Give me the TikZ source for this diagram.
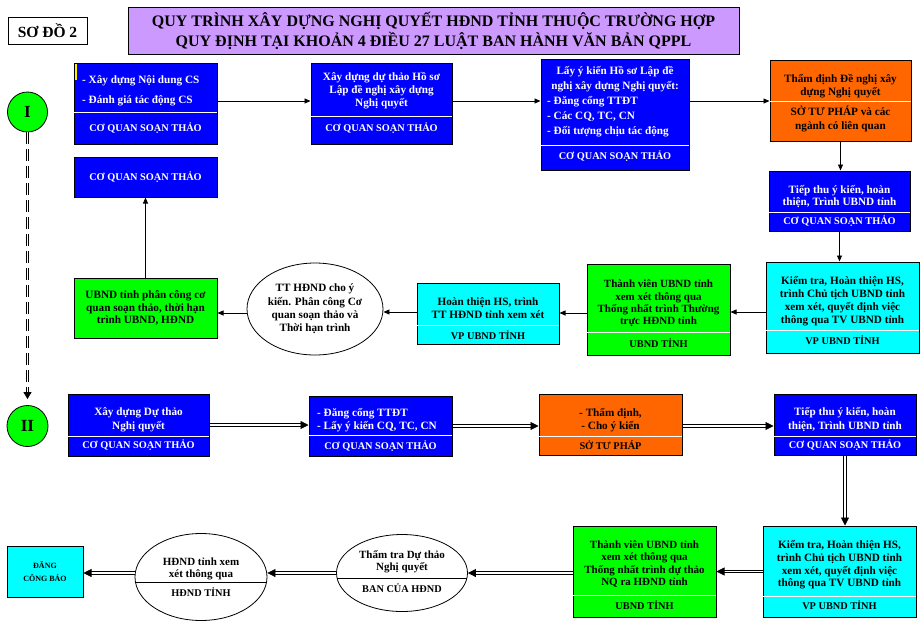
\documentclass[tikz,border=0pt]{standalone}
\usepackage{fontspec}
\setmainfont{Liberation Serif}
\usetikzlibrary{arrows.meta,shapes.geometric,calc}
\definecolor{cblue}{RGB}{0,0,255}
\definecolor{ccyan}{RGB}{0,255,255}
\definecolor{cgreen}{RGB}{0,255,0}
\definecolor{corange}{RGB}{255,102,0}
\definecolor{clav}{RGB}{204,153,255}
\begin{document}
\begin{tikzpicture}[x=1pt,y=-1pt,
 box/.style={draw=black, line width=1pt, inner sep=0pt, rectangle},
 t/.style={font=\bfseries\fontsize{11.2}{12.8}\selectfont, align=center, inner sep=0pt},
 tw/.style={t, text=white},
 lab/.style={font=\bfseries\fontsize{10.3}{12}\selectfont, inner sep=0pt},
 labw/.style={lab, text=white},
 div/.style={draw=white, line width=0.8pt, shorten <=0.5pt, shorten >=0.5pt},
 arr/.style={draw=black, line width=0.8pt, -{Triangle[length=6pt,width=5pt]}},
 darr/.style={draw=black, line width=0.7pt, double, double distance=1.8pt, -{Triangle[length=8pt,width=8pt]}},
 ell/.style={ellipse, draw=black, line width=0.8pt, fill=white, inner sep=0pt},
 circ/.style={circle, draw=black, line width=0.8pt, fill=cgreen, inner sep=0pt, font=\bfseries\fontsize{17}{17}\selectfont},
]
\useasboundingbox[fill=white] (0,0) rectangle (921,643);

% header
\node[box, minimum width=79pt, minimum height=27pt, font=\bfseries\fontsize{15.5}{16}\selectfont] (sd) at (47.5,30.5) {SƠ ĐỒ 2};
\node[box, fill=clav, minimum width=611pt, minimum height=47pt, align=center, font=\bfseries\fontsize{16}{20}\selectfont] (title) at (433.5,30.5) {QUY TRÌNH XÂY DỰNG NGHỊ QUYẾT HĐND TỈNH THUỘC TRƯỜNG HỢP\\QUY ĐỊNH TẠI KHOẢN 4 ĐIỀU 27 LUẬT BAN HÀNH VĂN BẢN QPPL};

% circles
\node[circ, minimum size=40pt] (cI) at (27.5,112) {I};
\node[circ, minimum size=41pt] (cII) at (27.5,426) {II};

% ---- phase I ----
\node[box, fill=cblue, minimum width=143pt, minimum height=81pt] (b1) at (145.5,103.5) {};
\fill[yellow] (75,64) rectangle (77,80);
\draw[div] (b1.west |- 0,112) -- (b1.east |- 0,112);
\node[tw, anchor=west] (b1a) at (82,81) {- Xây dựng Nội dung CS};
\node[tw, anchor=west] (b1b) at (82,101) {- Đánh giá tác động CS};
\node[labw] (b1c) at (145.5,128) {CƠ QUAN SOẠN THẢO};

\node[box, fill=cblue, minimum width=143pt, minimum height=40pt, text=white, font=\bfseries\fontsize{10.3}{12}\selectfont] (b1x) at (145.5,177) {CƠ QUAN SOẠN THẢO};

\node[box, fill=cblue, minimum width=141pt, minimum height=81pt] (b2) at (381.5,103.5) {};
\draw[div] (b2.west |- 0,116) -- (b2.east |- 0,116);
\node[tw] (b2a) at (381.5,90.5) {Xây dựng dự thảo Hồ sơ\\Lập đề nghị xây dựng\\Nghị quyết};
\node[labw] (b2b) at (381.5,128) {CƠ QUAN SOẠN THẢO};

\node[box, fill=cblue, minimum width=148pt, minimum height=111pt] (b3) at (615,114.5) {};
\draw[div] (b3.west |- 0,145) -- (b3.east |- 0,145);
\node[tw, font=\bfseries\fontsize{11.2}{15}\selectfont] (b3a) at (615,79.5) {Lấy ý kiến Hồ sơ Lập đề\\nghị xây dựng Nghị quyết:};
\node[tw, align=left, anchor=west, font=\bfseries\fontsize{11.2}{15}\selectfont] (b3b) at (547,117) {- Đăng cổng TTĐT\\- Các CQ, TC, CN\\- Đối tượng chịu tác động};
\node[labw] (b3c) at (615,156) {CƠ QUAN SOẠN THẢO};

\node[box, fill=corange, minimum width=141pt, minimum height=81pt] (b4) at (840.5,100.5) {};
\draw[div] (b4.west |- 0,101) -- (b4.east |- 0,101);
\node[t] (b4a) at (840.5,86) {Thẩm định Đề nghị xây\\dựng Nghị quyết};
\node[t, font=\bfseries\fontsize{11.2}{14}\selectfont] (b4b) at (840.5,119) {SỞ TƯ PHÁP và các\\ngành có liên quan};

\node[box, fill=cblue, minimum width=141pt, minimum height=60pt] (b5) at (839.5,201) {};
\draw[div] (b5.west |- 0,212) -- (b5.east |- 0,212);
\node[tw] (b5a) at (839.5,196.5) {Tiếp thu ý kiến, hoàn\\thiện, Trình UBND tỉnh};
\node[labw] (b5b) at (839.5,221) {CƠ QUAN SOẠN THẢO};

\node[box, fill=ccyan, minimum width=153pt, minimum height=91pt] (b6) at (842.5,307.5) {};
\draw[div] (b6.west |- 0,330) -- (b6.east |- 0,330);
\node[t, font=\bfseries\fontsize{11.2}{13}\selectfont] (b6a) at (842.5,301.5) {Kiểm tra, Hoàn thiện HS,\\trình Chủ tịch UBND tỉnh\\xem xét, quyết định việc\\thông qua TV UBND tỉnh};
\node[lab] (b6b) at (842.5,340) {VP UBND TỈNH};

\node[box, fill=cgreen, minimum width=143pt, minimum height=91pt] (b7) at (658.5,309.5) {};
\draw[div] (b7.west |- 0,332) -- (b7.east |- 0,332);
\node[t, font=\bfseries\fontsize{11}{12.4}\selectfont] (b7a) at (658.5,303.5) {Thành viên UBND tỉnh\\xem xét thông qua\\Thống nhất trình Thường\\trực HĐND tỉnh};
\node[lab] (b7b) at (658.5,343) {UBND TỈNH};

\node[box, fill=ccyan, minimum width=142pt, minimum height=61pt] (b8) at (488,313.5) {};
\draw[div] (b8.west |- 0,325) -- (b8.east |- 0,325);
\node[t, font=\bfseries\fontsize{11.2}{13}\selectfont] (b8a) at (488,308.5) {Hoàn thiện HS, trình\\TT HĐND tỉnh xem xét};
\node[lab] (b8b) at (488,335) {VP UBND TỈNH};

\node[ell, minimum width=136pt, minimum height=92pt, align=center, font=\bfseries\fontsize{11.2}{13.3}\selectfont] (e9) at (315,309) {TT HĐND cho ý\\kiến. Phân công Cơ\\quan soạn thảo và\\Thời hạn trình};

\node[box, fill=cgreen, minimum width=143pt, minimum height=60pt, align=center, font=\bfseries\fontsize{11.2}{12.5}\selectfont] (b10) at (145.5,308) {UBND tỉnh phân công cơ\\quan soạn thảo, thời hạn\\trình UBND, HĐND};

% phase I connectors
\draw[arr] (b1.east |- 0,101) -- (b2.west |- 0,101);
\draw[arr] (b2.east |- 0,101) -- (b3.west |- 0,101);
\draw[arr] (b3.east |- 0,101) -- (b4.west |- 0,101);
\draw[arr] (b4.south) -- (b4.south |- b5.north);
\draw[arr] (b5.south) -- (b5.south |- b6.north);
\draw[arr] (b6.west |- 0,312) -- (b7.east |- 0,312);
\draw[arr] (b7.west |- 0,313) -- (b8.east |- 0,313);
\draw[arr] (b8.west |- 0,312) -- (e9.east |- 0,312);
\draw[arr] (e9.west |- 0,313) -- (b10.east |- 0,313);
\draw[arr] (b10.north) -- (b1x.south);

% I -> II
\draw[draw=black, line width=0.7pt, double, double distance=1.8pt, dash pattern=on 12pt off 5pt, -{Triangle[length=7pt,width=8pt]}] (cI.south) -- ($(cII.north)+(0,-6)$);

% ---- phase II ----
\node[box, fill=cblue, minimum width=141pt, minimum height=62pt] (b11) at (138.5,425) {};
\draw[div] (b11.west |- 0,436) -- (b11.east |- 0,436);
\node[tw, font=\bfseries\fontsize{11.2}{14}\selectfont] (b11a) at (138.5,420) {Xây dựng Dự thảo\\Nghị quyết};
\node[labw] (b11b) at (138.5,445) {CƠ QUAN SOẠN THẢO};

\node[box, fill=cblue, minimum width=143pt, minimum height=60pt] (b12) at (380.5,426) {};
\draw[div] (b12.west |- 0,435) -- (b12.east |- 0,435);
\node[tw, align=left, anchor=west, font=\bfseries\fontsize{11.2}{13}\selectfont] (b12a) at (317,420.5) {- Đăng cổng TTĐT\\- Lấy ý kiến CQ, TC, CN};
\node[labw] (b12b) at (380.5,446) {CƠ QUAN SOẠN THẢO};

\node[box, fill=corange, minimum width=143pt, minimum height=61pt] (b13) at (610.5,424.5) {};
\draw[div] (b13.west |- 0,436) -- (b13.east |- 0,436);
\node[t, font=\bfseries\fontsize{11.2}{13}\selectfont] (b13a) at (610.5,420.5) {- Thẩm định,\\- Cho ý kiến};
\node[lab] (b13b) at (610.5,445) {SỞ TƯ PHÁP};

\node[box, fill=cblue, minimum width=142pt, minimum height=61pt] (b14) at (845,424.5) {};
\draw[div] (b14.west |- 0,436) -- (b14.east |- 0,436);
\node[tw, font=\bfseries\fontsize{11.2}{14}\selectfont] (b14a) at (845,420) {Tiếp thu ý kiến, hoàn\\thiện, Trình UBND tỉnh};
\node[labw] (b14b) at (845,445) {CƠ QUAN SOẠN THẢO};

\node[box, fill=ccyan, minimum width=153pt, minimum height=91pt] (b15) at (839.5,571.5) {};
\draw[div] (b15.west |- 0,596) -- (b15.east |- 0,596);
\node[t, font=\bfseries\fontsize{11.2}{12.7}\selectfont] (b15a) at (839.5,565) {Kiểm tra, Hoàn thiện HS,\\trình Chủ tịch UBND tỉnh\\xem xét, quyết định việc\\thông qua TV UBND tỉnh};
\node[lab] (b15b) at (839.5,605) {VP UBND TỈNH};

\node[box, fill=cgreen, minimum width=143pt, minimum height=91pt] (b16) at (644.5,571.5) {};
\draw[div] (b16.west |- 0,595) -- (b16.east |- 0,595);
\node[t, font=\bfseries\fontsize{11}{12.4}\selectfont] (b16a) at (644.5,564) {Thành viên UBND tỉnh\\xem xét thông qua\\Thống nhất trình dự thảo\\NQ ra HĐND tỉnh};
\node[lab] (b16b) at (644.5,605) {UBND TỈNH};

\node[ell, minimum width=131pt, minimum height=77pt] (e17) at (402,573) {};
\draw[line width=0.8pt] ($(e17.center)+(-64.9,5)$) -- ($(e17.center)+(64.9,5)$);
\node[t, font=\bfseries\fontsize{11}{12}\selectfont] (e17a) at (402,562) {Thẩm tra Dự thảo\\Nghị quyết};
\node[lab] (e17b) at (402,588) {BAN CỦA HĐND};

\node[ell, minimum width=132pt, minimum height=87pt] (e18) at (201,577) {};
\draw[line width=0.8pt] ($(e18.center)+(-65.5,5)$) -- ($(e18.center)+(65.5,5)$);
\node[t, font=\bfseries\fontsize{11}{12}\selectfont] (e18a) at (201,569) {HĐND tỉnh xem\\xét thông qua};
\node[lab] (e18b) at (201,592) {HĐND TỈNH};

\node[box, fill=ccyan, minimum width=76pt, minimum height=51pt, align=center, font=\bfseries\fontsize{8}{13}\selectfont] (b19) at (45,571.5) {ĐĂNG\\CÔNG BÁO};

% phase II connectors
\draw[darr] (b11.east |- 0,425) -- (b12.west |- 0,425);
\draw[darr] (b12.east |- 0,426) -- (b13.west |- 0,426);
\draw[darr] (b13.east |- 0,426) -- (b14.west |- 0,426);
\draw[darr] (b14.south) -- (b14.south |- b15.north);
\draw[darr] (b15.west) -- (b16.east);
\draw[darr] (b16.west |- 0,573) -- (e17.east);
\draw[darr] (e17.west) -- (e18.east |- 0,573);
\draw[darr] (e18.west |- 0,573) -- (b19.east |- 0,573);
\end{tikzpicture}
\end{document}
